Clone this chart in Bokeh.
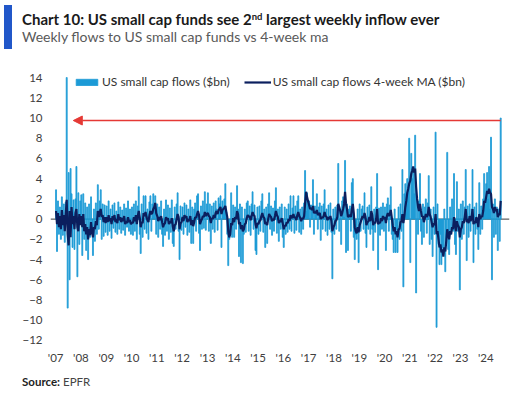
import pandas as pd
from bokeh.plotting import figure
from bokeh.layouts import column
from bokeh.models import (Range1d, FixedTicker, DatetimeTickFormatter, Span, Div,
                          Arrow, NormalHead, Legend, LegendItem, ColumnDataSource)
from bokeh.embed import file_html
from bokeh.resources import INLINE

years = list(range(2007, 2025))

flows_2007 = [2.9, -3.2, 1.8, -1.5, 1.2, -2.0, 2.2, -1.6, 1.5, -2.3, 1.7, 14.0, -8.8, 4.6, -6.0, 5.0, 2.5, -2.8, 1.9, -3.0, 2.0, 5.2, -5.7, 2.6, -2.5, 1.8]
flows_2008 = [2.4, -3.6, 2.5, -2.0, 1.6, -3.1, 1.2, -4.0, 1.5, -1.8, 2.2, -1.2, -3.6, 1.0, -2.2, 1.6, -1.5, 3.4, -1.0, 1.8, 2.9, -2.0, 1.5, -1.7, 1.4, -1.3]
flows_2009 = [1.3, -1.6, 1.8, -1.2, 1.0, -1.9, 1.4, -0.9, 1.6, -1.3, 0.8, -1.5, 1.7, -1.0, 1.2, -1.4, 0.9, -1.1, 1.5, -1.6, 1.1, -0.8, 1.8, -1.2, 1.0, -1.5]
flows_2010 = [1.2, -1.6, 1.5, -1.2, 1.8, -2.0, 1.3, 3.2, -1.5, -3.4, 1.5, -1.8, 2.3, -1.0, 2.3, -1.4, 1.0, -2.0, 1.7, 2.3, -1.2, 1.5, 2.5, 1.2, 2.3, -1.5]
flows_2011 = [1.5, -1.8, 1.2, -1.0, 1.8, -1.5, -2.7, 1.0, -1.6, 1.9, -1.2, 1.4, -2.0, 1.1, -1.3, 1.9, -2.4, -2.7, 1.2, -1.0, 1.5, 2.6, -1.2, -4.0, 1.3, -1.1]
flows_2012 = [1.2, -1.5, 1.6, -0.8, 1.4, -1.6, 1.0, -1.3, 1.9, -2.4, 1.2, -2.4, 1.0, 1.6, -1.2, 2.3, 2.5, -1.4, -3.1, 1.3, -1.0, 1.8, -0.9, 2.7, -1.1, 1.5]
flows_2013 = [2.6, -1.2, 1.5, -2.4, 1.3, -1.0, 1.6, -1.3, 1.8, 1.0, -1.1, 2.1, 1.5, 2.3, -2.8, 1.8, 1.2, 2.0, 3.5, 0.8, -1.5, -4.6, -2.0, -1.6, 2.6, -1.8]
flows_2014 = [1.4, -1.8, 1.2, -1.0, 3.3, 1.0, -3.7, 1.5, -4.3, 1.2, -4.4, -1.5, 1.0, -1.3, 1.6, 1.8, -1.2, 1.3, -1.6, 1.5, 2.7, -1.0, 1.4, -3.1, -3.5, 1.2]
flows_2015 = [-1.5, 1.3, -1.2, 1.8, 2.5, -1.3, 1.0, -2.8, 1.2, -2.4, 1.5, 2.6, -1.0, 1.3, -1.6, 1.1, -1.2, 1.8, 3.1, -1.4, 1.0, -2.2, 1.2, -1.0, 1.5, -1.8]
flows_2016 = [-2.8, 1.2, -1.5, 1.0, -1.3, 1.5, -1.0, 2.3, -1.2, 1.1, 2.3, -1.4, 1.3, -1.1, 1.8, 2.3, -1.3, 1.0, -1.5, 1.2, -1.0, 1.6, 4.8, 0.8, 2.6, 1.5]
flows_2017 = [1.8, -0.8, 1.4, 1.0, 3.9, -1.5, 1.3, 0.8, 2.5, -1.0, 1.2, 1.6, -2.1, 1.3, -1.0, 1.5, 2.9, -1.2, 1.0, -1.6, 1.4, -1.0, 1.6, -1.3, -5.9, 1.0]
flows_2018 = [-1.5, 1.2, -1.0, 1.4, 5.5, -1.2, 1.0, -2.5, 1.8, 2.2, 0.2, 5.8, -3.3, 1.5, -3.1, 1.0, 1.3, -1.2, 3.6, 4.0, -1.8, -4.0, -1.5, -2.0, 1.0, -4.3]
flows_2019 = [1.5, -1.2, 1.0, 1.3, -1.0, 2.6, -1.4, -2.8, 1.2, -1.0, 1.4, -1.5, 3.2, -1.0, -3.1, 1.0, -1.3, 1.2, 4.5, -5.0, 1.1, -1.6, 1.2, -1.0, 1.6, -1.2]
flows_2020 = [1.2, -3.1, 1.5, 2.1, -1.2, 1.4, 3.2, -1.5, -2.0, -3.3, 1.0, -3.3, -1.0, -3.3, 1.2, -2.0, 1.5, -1.2, 4.9, -6.7, 2.5, 3.5, 1.8, 4.0, 3.0, 8.0]
flows_2021 = [-4.3, 6.5, 4.0, 5.0, 2.5, 8.3, -7.3, 2.0, -1.5, 1.8, 4.5, -1.2, -2.5, 1.5, -1.8, 1.2, 2.0, -1.4, 1.6, 4.3, -2.5, 1.0, -2.0, -3.7, 1.2, -1.5]
flows_2022 = [8.6, -10.7, 1.5, -2.5, -4.5, -1.5, -4.5, -2.8, -3.5, 1.0, -5.2, -2.0, 6.6, -3.0, -3.5, 1.2, -1.5, 2.0, -1.2, 4.5, -2.5, -3.5, 3.7, -1.2, 1.0, -7.0]
flows_2023 = [1.5, -2.0, 1.8, -1.5, 1.2, 4.9, -4.1, 1.3, -1.8, 1.5, -1.2, 1.0, 4.9, -4.3, 1.2, -1.5, 1.6, -1.0, -3.0, 3.6, -1.5, 1.3, -1.0, 2.0, 4.5, 1.5]
flows_2024 = [3.5, 4.6, 2.0, 5.2, 1.0, 8.1, -6.0, 1.5, -1.8, 2.0, -1.5, 1.2, -3.1, 1.0, -2.2, 10.0]

# 4-week moving average ($bn)
ma_2007 = [0.8, -0.5, 0.6, -0.8, 0.3, -1.0, 0.9, -0.6, 0.4, -1.2, 0.5, 1.9, -1.5, -2.6, 0.8, -1.8, 1.2, -0.5, 0.3, -1.0, 0.6, 1.0, -0.8, -1.2, 0.5, -0.6]
ma_2008 = [0.3, -0.8, 0.5, -1.2, -0.5, -1.5, -0.8, -2.0, -1.0, -1.6, -0.3, -1.2, -1.8, -0.8, -1.0, -0.2, -0.6, 0.8, 0.2, 0.6, 1.0, 0.2, 0.4, -0.3, 0.2, -0.4]
ma_2009 = [0.2, -0.3, 0.4, -0.2, 0.1, -0.5, 0.3, -0.1, 0.4, -0.3, 0.0, -0.4, 0.5, -0.1, 0.2, -0.3, 0.1, -0.2, 0.3, -0.5, -0.2, -0.4, 0.2, -0.3, -0.1, -0.5]
ma_2010 = [-0.3, -0.4, 0.2, -0.2, 0.4, -0.5, 0.3, 0.8, 0.2, -0.8, -0.3, -0.4, 0.6, 0.3, 0.7, 0.2, -0.1, -0.3, 0.4, 0.8, 0.5, 0.6, 1.0, 1.2, 1.6, 0.6]
ma_2011 = [0.3, -0.2, 0.2, -0.1, 0.3, -0.3, -0.8, -0.5, -0.4, 0.2, -0.1, 0.1, -0.5, -0.2, -0.4, 0.1, -0.7, -1.2, -0.6, -0.5, 0.0, 0.5, 0.2, -1.0, -0.4, -0.3]
ma_2012 = [0.2, -0.2, 0.4, 0.1, 0.3, -0.3, 0.0, -0.2, 0.3, -0.6, -0.1, -0.7, -0.3, 0.2, 0.1, 0.5, 0.8, 0.4, -0.5, -0.2, 0.0, 0.3, 0.2, 0.7, 0.3, 0.5]
ma_2013 = [0.6, 0.3, 0.2, -0.4, 0.1, 0.0, 0.4, 0.1, 0.6, 0.8, 0.5, 0.9, 1.0, 1.2, 0.5, 0.9, 1.0, 1.1, 1.3, 0.7, 0.2, -1.2, -1.8, -1.5, -0.4, -0.6]
ma_2014 = [0.1, -0.3, 0.2, 0.0, 0.8, 0.5, -0.5, -0.3, -1.0, -0.6, -1.2, -1.0, -0.5, -0.4, 0.1, 0.4, 0.2, 0.3, -0.1, 0.3, 0.7, 0.4, 0.3, -0.5, -0.9, -0.4]
ma_2015 = [-0.5, -0.2, -0.1, 0.3, 0.6, 0.2, 0.1, -0.5, -0.3, -0.6, 0.0, 0.5, 0.3, 0.2, -0.2, 0.0, -0.1, 0.3, 0.8, 0.4, 0.2, -0.4, -0.1, -0.3, 0.1, -0.4]
ma_2016 = [-1.0, -0.6, -0.7, -0.3, -0.4, 0.0, -0.2, 0.4, 0.1, 0.2, 0.5, 0.1, 0.2, -0.1, 0.4, 0.7, 0.3, 0.1, -0.2, 0.1, 0.0, 0.3, 1.5, 2.7, 2.2, 1.8]
ma_2017 = [1.4, 1.0, 1.1, 0.9, 1.3, 0.6, 0.7, 0.6, 0.9, 0.4, 0.5, 0.6, 0.0, 0.2, 0.1, 0.3, 0.7, 0.3, 0.2, -0.1, 0.2, 0.0, 0.3, -0.2, -1.2, -0.8]
ma_2018 = [-0.6, -0.2, -0.1, 0.2, 1.5, 1.2, 0.8, 0.3, 0.6, 1.0, 1.5, 2.7, 1.5, 1.0, 0.2, 0.3, 0.4, 0.2, 1.0, 1.5, 0.6, -0.8, -1.2, -1.4, -0.8, -1.3]
ma_2019 = [-0.6, -0.3, 0.0, 0.3, 0.1, 0.6, 0.2, -0.6, -0.3, -0.2, 0.2, -0.2, 0.8, 0.4, -0.6, -0.3, -0.4, 0.0, 1.0, -0.5, -0.3, -0.4, 0.1, -0.2, 0.3, 0.0]
ma_2020 = [0.2, -0.4, 0.3, 0.6, 0.3, 0.5, 0.9, 0.2, -0.6, -1.2, -0.8, -1.5, -1.2, -1.8, -1.0, -1.0, -0.3, -0.2, 0.5, -0.4, 0.3, 1.2, 1.8, 2.6, 3.0, 3.5]
ma_2021 = [3.8, 4.5, 4.8, 5.2, 4.6, 5.0, 3.2, 2.0, 1.2, 0.8, 1.5, 0.8, 0.2, 0.3, -0.3, 0.1, 0.5, 0.2, 0.4, 1.2, 0.5, 0.2, -0.3, -0.8, -0.4, -0.6]
ma_2022 = [0.5, -1.5, -1.2, -2.0, -2.8, -2.5, -3.3, -3.0, -3.7, -2.8, -3.2, -2.2, -1.0, -1.5, -2.0, -1.2, -1.5, -0.8, -1.0, 0.2, -0.5, -1.2, -0.2, -0.6, -0.8, -1.8]
ma_2023 = [-1.0, -0.8, -0.2, -0.4, 0.2, 1.0, -0.3, 0.0, -0.4, 0.3, -0.2, 0.1, 1.0, -0.5, -0.2, -0.4, 0.2, -0.1, -0.8, 0.5, 0.0, 0.3, 0.2, 0.8, 1.8, 1.6]
ma_2024 = [2.2, 2.8, 2.5, 3.0, 2.6, 2.5, 1.2, 1.0, 0.6, 1.2, 0.8, 1.0, 0.2, 0.5, 0.4, 1.8]

y_ticks = [-12, -10, -8, -6, -4, -2, 0, 2, 4, 6, 8, 10, 12, 14]
arrow_level = 9.75
arrow_from = "2024-08-03"
arrow_to = "2007-09-13"

flows_by_year = [flows_2007, flows_2008, flows_2009, flows_2010, flows_2011, flows_2012,
                 flows_2013, flows_2014, flows_2015, flows_2016, flows_2017, flows_2018,
                 flows_2019, flows_2020, flows_2021, flows_2022, flows_2023, flows_2024]
ma_by_year = [ma_2007, ma_2008, ma_2009, ma_2010, ma_2011, ma_2012, ma_2013, ma_2014,
              ma_2015, ma_2016, ma_2017, ma_2018, ma_2019, ma_2020, ma_2021, ma_2022,
              ma_2023, ma_2024]

dates, flows, ma = [], [], []
for yr, f, m in zip(years, flows_by_year, ma_by_year):
    d = pd.date_range(f"{yr}-01-07", periods=len(f), freq="14D")
    dates += list(d)
    flows += f
    ma += m

src = ColumnDataSource(dict(date=dates, flow=flows, ma=ma))

FONT = "Lato"
W = 526
TITLE_H, FIG_H, FOOT_H = 60, 310, 24

p = figure(width=W, height=FIG_H, output_backend="svg", toolbar_location=None,
           x_axis_type="datetime",
           x_range=Range1d(pd.Timestamp("2006-10-19"), pd.Timestamp("2024-12-09")),
           y_range=Range1d(-12.5, 14.5),
           min_border_left=50, min_border_right=17, min_border_top=12, min_border_bottom=25,
           background_fill_color="white", border_fill_color="white", margin=(0, 0, 0, 0))
p.outline_line_color = None
p.xgrid.visible = False
p.ygrid.visible = False

zero = Span(location=0, dimension="width", line_color="#3a3a3a", line_width=1, level="underlay")
p.add_layout(zero)

bar_w = 14 * 24 * 3600 * 1000
bars = p.vbar(x="date", top="flow", bottom=0, width=bar_w, source=src,
              fill_color="#1c9ad6", line_color="#1c9ad6", line_width=0.8)
line = p.line(x="date", y="ma", source=src, line_color="#0b1f5e", line_width=2.2)

ms = lambda s: pd.Timestamp(s).value / 1e6
arrow = Arrow(x_start=ms(arrow_from), y_start=arrow_level, x_end=ms(arrow_to), y_end=arrow_level,
              line_color="#e53935", line_width=1.6,
              end=NormalHead(size=9, fill_color="#e53935", line_color="#e53935"))
p.add_layout(arrow)

p.xaxis.ticker = FixedTicker(ticks=[ms(f"{y}-01-01") for y in years])
p.xaxis.formatter = DatetimeTickFormatter(years="'%y", months="'%y", days="'%y")
p.yaxis.ticker = FixedTicker(ticks=y_ticks)
for ax in (p.xaxis[0], p.yaxis[0]):
    ax.axis_line_color = None
    ax.major_tick_line_color = None
    ax.minor_tick_line_color = None
    ax.major_tick_out = 0
    ax.major_tick_in = 0
    ax.minor_tick_out = 0
    ax.major_label_text_font = FONT
    ax.major_label_text_font_size = "11.5px"
    ax.major_label_text_color = "#404040"
p.xaxis.major_label_standoff = 5
p.yaxis.major_label_standoff = 8

legend = Legend(items=[LegendItem(label="US small cap flows ($bn)", renderers=[bars]),
                       LegendItem(label="US small cap flows 4-week MA ($bn)", renderers=[line])],
                location=(23, 256), orientation="horizontal", glyph_width=27, glyph_height=8,
                label_standoff=2, spacing=14, padding=0, margin=0, label_height=12,
                background_fill_alpha=0, border_line_alpha=0,
                label_text_font=FONT, label_text_font_size="12px", label_text_color="#333333")
p.add_layout(legend)

title_html = (
    f'<div style="position:relative;width:{W}px;height:{TITLE_H}px;font-family:{FONT};">'
    '<div style="position:absolute;left:4px;top:5px;width:8px;height:44px;background:#2157c9;"></div>'
    '<div style="position:absolute;left:22px;top:9px;font-size:15px;font-weight:bold;'
    'color:#1a1a1a;white-space:nowrap;line-height:20px;">'
    'Chart 10: US small cap funds see 2<span style="position:relative;top:-5px;font-size:9.5px;">nd</span>'
    ' largest weekly inflow ever</div>'
    '<div style="position:absolute;left:22px;top:28px;font-size:14px;color:#595959;'
    'white-space:nowrap;line-height:18px;">Weekly flows to US small cap funds vs 4-week ma</div>'
    '</div>')
title_div = Div(text=title_html, width=W, height=TITLE_H, margin=(0, 0, 0, 0))

foot_html = (
    f'<div style="position:relative;width:{W}px;height:{FOOT_H}px;font-family:{FONT};">'
    '<div style="position:absolute;left:22px;top:5px;font-size:11.5px;line-height:14px;'
    'white-space:nowrap;color:#222222;"><b>Source:</b> <span style="color:#444444;">EPFR</span></div>'
    '</div>')
foot_div = Div(text=foot_html, width=W, height=FOOT_H, margin=(0, 0, 0, 0))

layout = column(title_div, p, foot_div, spacing=0, margin=(0, 0, 0, 0))

open("out.html", "w").write(file_html(layout, INLINE))
